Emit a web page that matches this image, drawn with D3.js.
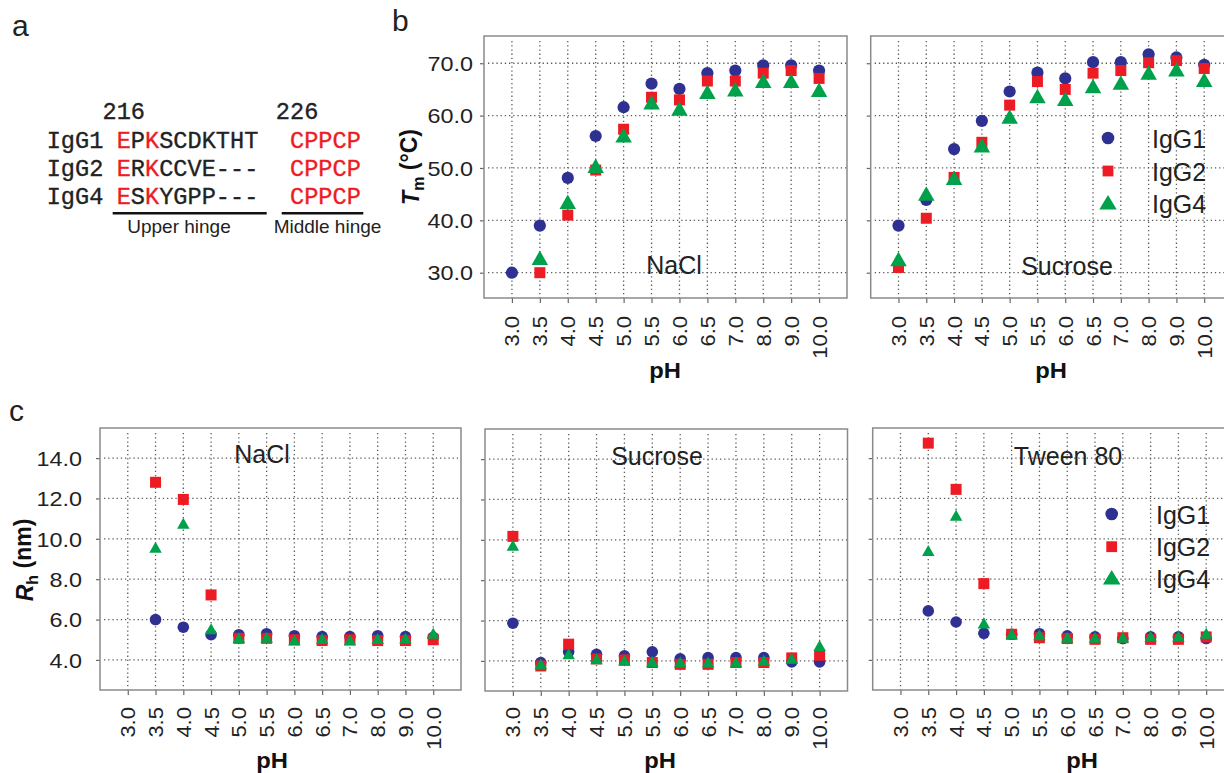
<!DOCTYPE html>
<html><head><meta charset="utf-8">
<script src="https://cdn.jsdelivr.net/npm/d3@7"></script>
<style>
html,body{margin:0;padding:0;background:#fff;}
svg{display:block;font-family:"Liberation Sans",Arial,sans-serif;}
</style></head>
<body>
<svg id="chart" width="1224" height="773"></svg>
<script>
// ---------- DATA ----------
const phLabels = ["3.0","3.5","4.0","4.5","5.0","5.5","6.0","6.5","7.0","8.0","9.0","10.0"];
const seriesNames = ["IgG1","IgG2","IgG4"];
const tmTicks = [30,40,50,60,70];
const rhTicks = [4,6,8,10,12,14];

const tmNaClIgG1 = [30.0,39.0,48.1,56.1,61.6,66.1,65.1,68.1,68.6,69.6,69.6,68.6];
const tmNaClIgG2 = [null,30.0,41.0,49.6,57.4,63.5,63.0,66.6,66.6,68.1,68.6,67.1];
const tmNaClIgG4 = [null,32.7,43.4,50.3,56.1,62.4,61.2,64.4,64.9,66.5,66.5,64.8];
const tmSucIgG1 = [39.0,43.9,53.6,59.0,64.6,68.2,67.1,70.2,70.2,71.7,71.1,69.7];
const tmSucIgG2 = [31.0,40.4,48.2,54.9,62.0,66.5,65.0,68.1,68.6,70.1,70.5,69.0];
const tmSucIgG4 = [32.5,45.0,48.0,54.2,59.7,63.6,63.1,65.5,66.2,68.1,68.7,66.7];

const rhNaClIgG1 = [null,6.0,5.62,5.25,5.25,5.3,5.2,5.16,5.16,5.2,5.16,5.12];
const rhNaClIgG2 = [null,12.8,11.95,7.22,5.07,5.07,5.0,4.96,5.0,4.96,4.96,5.0];
const rhNaClIgG4 = [null,9.55,10.75,5.52,5.07,5.1,4.96,5.03,4.96,5.03,5.06,5.3];
const rhSucIgG1 = [5.87,3.92,4.45,4.33,4.25,4.45,4.1,4.17,4.17,4.17,3.95,3.95];
const rhSucIgG2 = [10.17,3.75,4.83,4.1,4.05,3.92,3.83,3.83,3.92,3.92,4.15,4.28];
const rhSucIgG4 = [9.7,3.83,4.33,4.08,4.0,3.95,3.92,3.92,3.92,4.0,4.1,4.74];
const rhTwIgG1 = [null,6.43,5.88,5.32,5.27,5.3,5.19,5.14,5.06,5.14,5.14,5.06];
const rhTwIgG2 = [null,14.74,12.45,7.78,5.27,5.1,5.06,5.02,5.1,5.02,5.02,5.14];
const rhTwIgG4 = [null,9.4,11.14,5.8,5.27,5.22,5.1,5.1,5.1,5.14,5.14,5.3];

// hinge sequences (panel a)
const seqNames = ["IgG1","IgG2","IgG4"];
const upperHinge = ["EPKSCDKTHT","ERKCCVE---","ESKYGPP---"];
const middleHinge = ["CPPCP","CPPCP","CPPCP"];
const redPositions = [0,2];

// ---------- STYLE ----------
const C_BLUE = "#2e3192", C_RED = "#ed1c24", C_GREEN = "#00a14b";
const TXT = "#222";
const svg = d3.select("#chart");

// ---------- PANEL A ----------
(function(){
  const g = svg.append("g");
  const mono = "'Liberation Mono','Courier New',monospace";
  const fs = 23.6, cw = fs*0.6;
  const seqX = 116.7, midX = 290, nameX = 46.7;
  const rowY = [147.7,175.5,204];
  g.append("text").attr("x", seqX+cw/2).attr("y",119).attr("text-anchor","middle")
    .style("font-family",mono).style("font-size",fs+"px").attr("fill",TXT)
    .attr("stroke",TXT).attr("stroke-width",0.35).text("216");
  g.append("text").attr("x", midX+cw/2).attr("y",119).attr("text-anchor","middle")
    .style("font-family",mono).style("font-size",fs+"px").attr("fill",TXT)
    .attr("stroke",TXT).attr("stroke-width",0.35).text("226");
  seqNames.forEach((n,i)=>{
    g.append("text").attr("x",nameX).attr("y",rowY[i]).style("font-family",mono)
      .style("font-size",fs+"px").attr("fill",TXT).attr("stroke",TXT).attr("stroke-width",0.35).text(n);
    upperHinge[i].split("").forEach((ch,j)=>{
      const col = redPositions.includes(j) ? C_RED : TXT;
      g.append("text").attr("x",seqX+j*cw).attr("y",rowY[i]).style("font-family",mono)
        .style("font-size",fs+"px").attr("fill",col).attr("stroke",col).attr("stroke-width",0.35).text(ch);
    });
    middleHinge[i].split("").forEach((ch,j)=>{
      g.append("text").attr("x",midX+j*cw).attr("y",rowY[i]).style("font-family",mono)
        .style("font-size",fs+"px").attr("fill",C_RED).attr("stroke",C_RED).attr("stroke-width",0.35).text(ch);
    });
  });
  g.append("line").attr("x1",112.7).attr("x2",266.7).attr("y1",213.3).attr("y2",213.3).attr("stroke","#111").attr("stroke-width",2.6);
  g.append("line").attr("x1",281.7).attr("x2",363.3).attr("y1",213.3).attr("y2",213.3).attr("stroke","#111").attr("stroke-width",2.6);
  g.append("text").attr("x",179).attr("y",233).attr("text-anchor","middle").style("font-size","19px").attr("fill",TXT).text("Upper hinge");
  g.append("text").attr("x",327.5).attr("y",233).attr("text-anchor","middle").style("font-size","19px").attr("fill",TXT).text("Middle hinge");
})();

// panel letters
[["a",12,36],["b",392,31],["c",9,421]].forEach(([t,x,y])=>{
  svg.append("text").attr("x",x).attr("y",y).style("font-size","30px").attr("fill",TXT).text(t);
});

// ---------- SCATTER PANELS ----------
function marker(g, type, x, y, s){
  const sel = g.append("g");
  if(type===0){
    sel.append("circle").attr("cx",x).attr("cy",y).attr("r",s.r).attr("fill",C_BLUE);
  } else if(type===1){
    sel.append("rect").attr("x",x-s.sq/2).attr("y",y-s.sq/2).attr("width",s.sq).attr("height",s.sq).attr("fill",C_RED);
  } else {
    const w=s.tw, h=s.th;
    sel.append("path").attr("d",`M${x},${y-h*0.55}L${x+w/2},${y+h*0.45}L${x-w/2},${y+h*0.45}Z`).attr("fill",C_GREEN);
  }
}

function panel(opt){
  const {left,right,top,bottom,domain,ticks,showLabels,series,label,labelX,labelY,labelBase,xlabOff,phX,phY,ms,legend} = opt;
  const g = svg.append("g");
  const x = d3.scalePoint().domain(phLabels).range([left,right]).padding(1);
  const y = d3.scaleLinear().domain(domain).range([bottom,top]);

  // grid
  const gridStyle = s => s.attr("stroke","#5a5a5a").attr("stroke-width",1.3).attr("stroke-dasharray","1.3,2.9");
  g.append("g").selectAll("line").data(phLabels).join("line")
    .attr("x1",d=>x(d)).attr("x2",d=>x(d)).attr("y1",top+5).attr("y2",bottom).call(gridStyle);
  g.append("g").selectAll("line").data(ticks).join("line")
    .attr("x1",left+4).attr("x2",right).attr("y1",d=>y(d)).attr("y2",d=>y(d)).call(gridStyle);

  // axes
  const xa = g.append("g").attr("transform",`translate(0,${bottom})`)
    .call(d3.axisBottom(x).tickSize(5).tickPadding(0));
  xa.select(".domain").remove();
  xa.selectAll(".tick line").attr("stroke","#666").attr("stroke-width",1.2);
  xa.selectAll(".tick text")
    .attr("transform","rotate(-90) scale(1.13,1)")
    .attr("x",-xlabOff/1.13).attr("y",0).attr("dy","0.36em")
    .style("text-anchor","end").style("font-size","19.5px").attr("fill",TXT);

  const ya = g.append("g").attr("transform",`translate(${left},0)`)
    .call(d3.axisLeft(y).tickValues(ticks).tickSize(4).tickFormat(d3.format(".1f")));
  ya.select(".domain").remove();
  ya.selectAll(".tick line").attr("stroke","#666").attr("stroke-width",1.2);
  if(showLabels){
    ya.selectAll(".tick text").attr("x",0).attr("dy","0.36em")
      .attr("transform",`translate(${-showLabels},0) scale(1.17,1)`)
      .style("text-anchor","end").style("font-size","20px").attr("fill",TXT);
  } else {
    ya.selectAll(".tick text").remove();
  }

  // frame
  g.append("rect").attr("x",left).attr("y",top).attr("width",right-left).attr("height",bottom-top)
    .attr("fill","none").attr("stroke","#8a8a8a").attr("stroke-width",1.5);

  // condition label
  g.append("text").attr("x",labelX).attr("y",labelBase).attr("text-anchor","middle")
    .style("font-size","25px").attr("fill",TXT).text(label);

  // points: circles, squares, triangles
  series.forEach((vals,si)=>{
    vals.forEach((v,i)=>{ if(v!==null) marker(g,si,x(phLabels[i]),y(v),ms); });
  });

  // pH title
  g.append("text").attr("x",phX).attr("y",phY).attr("text-anchor","middle")
    .style("font-size","22px").style("font-weight","bold").attr("fill","#111")
    .attr("transform",`translate(${phX},0) scale(1.08,1) translate(${-phX},0)`).text("pH");

  if(legend){
    const lm = {r:6.3, sq:10.8, tw:17.5, th:14.5};
    seriesNames.forEach((n,si)=>{
      const ly = legend.y[si];
      marker(g,si,legend.mx,ly,lm);
      g.append("text").attr("x",legend.tx).attr("y",ly+9.5).style("font-size","25px").attr("fill",TXT).text(n);
    });
  }
}

const msB = {r:6.1, sq:11, tw:16.5, th:14.5};
const msC = {r:5.8, sq:11, tw:12.5, th:11};

panel({left:484,right:847,top:36,bottom:298,domain:[25.17,75.2],ticks:tmTicks,showLabels:11,
  series:[tmNaClIgG1,tmNaClIgG2,tmNaClIgG4],label:"NaCl",labelX:674,labelBase:274,
  xlabOff:18,phX:665,phY:378,ms:msB});
panel({left:870.7,right:1232,top:36,bottom:298,domain:[25.17,75.2],ticks:tmTicks,showLabels:0,
  series:[tmSucIgG1,tmSucIgG2,tmSucIgG4],label:"Sucrose",labelX:1067,labelBase:275,
  xlabOff:18,phX:1051,phY:378,ms:msB,
  legend:{mx:1108,tx:1152,y:[138,171,203]}});

panel({left:100,right:461,top:428,bottom:690,domain:[2.51,15.49],ticks:rhTicks,showLabels:18,
  series:[rhNaClIgG1,rhNaClIgG2,rhNaClIgG4],label:"NaCl",labelX:262,labelBase:463,
  xlabOff:17,phX:272,phY:768,ms:msC});
panel({left:485,right:847.5,top:429,bottom:691,domain:[2.51,15.49],ticks:rhTicks,showLabels:0,
  series:[rhSucIgG1,rhSucIgG2,rhSucIgG4],label:"Sucrose",labelX:657,labelBase:465,
  xlabOff:16,phX:660,phY:768,ms:msC});
panel({left:872.7,right:1234,top:428,bottom:690,domain:[2.51,15.49],ticks:rhTicks,showLabels:0,
  series:[rhTwIgG1,rhTwIgG2,rhTwIgG4],label:"Tween 80",labelX:1068,labelBase:465,
  xlabOff:17,phX:1082,phY:768,ms:msC,
  legend:{mx:1111.7,tx:1156,y:[514,546.7,578]}});

// y-axis titles
function yTitle(x,y,main,sub,rest){
  const t = svg.append("text").attr("transform",`translate(${x},${y}) rotate(-90)`)
    .attr("text-anchor","middle").style("font-size","23px").style("font-weight","bold").attr("fill","#111");
  t.append("tspan").style("font-style","italic").text(main);
  t.append("tspan").attr("dy","0.3em").style("font-size","16px").text(sub);
  t.append("tspan").attr("dy","-0.3em").text(" " + rest);
}
yTitle(419,167,"T","m","(°C)");
yTitle(33,560,"R","h","(nm)");
</script>
</body></html>
